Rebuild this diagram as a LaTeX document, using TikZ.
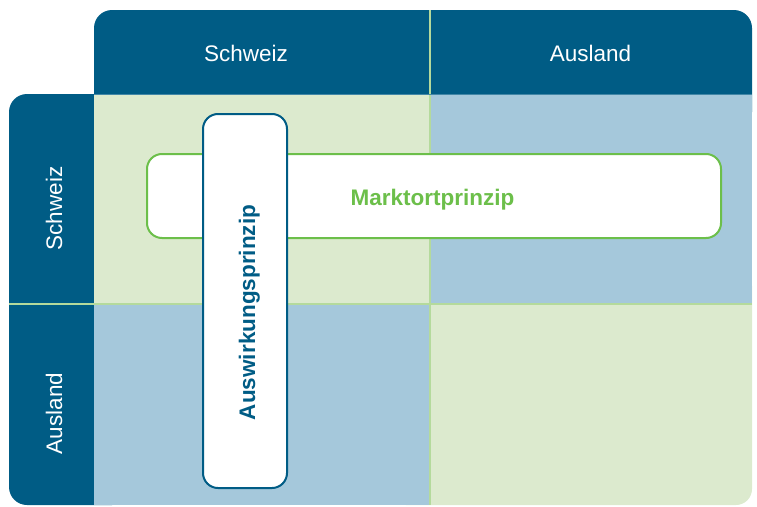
\documentclass[tikz,border=0pt]{standalone}
\usepackage{fontspec}
\setmainfont{Liberation Sans}
\definecolor{hdrblue}{HTML}{005C85}
\definecolor{lgreen}{HTML}{DCEACE}
\definecolor{lblue}{HTML}{A5C8DB}
\definecolor{divgreen}{HTML}{B4DA9C}
\definecolor{mgreen}{HTML}{6CBF4A}
\begin{document}
\begin{tikzpicture}[x=1pt,y=-1pt,
  hdrtext/.style={text=white,font=\fontsize{22.5}{26}\selectfont,anchor=base,inner sep=0pt},
  boxtext/.style={font=\bfseries\fontsize{22.5}{26}\selectfont,anchor=base,inner sep=0pt},
  divline/.style={divgreen,line width=2.2pt}]
\useasboundingbox (0,0) rectangle (757,506);
% headers
\fill[hdrblue,rounded corners=18pt] (94,10) rectangle (752,130);
\fill[hdrblue,rounded corners=18pt] (9,94) rectangle (130,505);
% quadrants
\fill[lgreen,rounded corners=16pt] (390,270) rectangle (752,505);
\fill[lgreen] (94,94) rectangle (430,304);
\fill[lblue] (430,94) rectangle (752,304);
\fill[lblue] (94,304) rectangle (430,505);
% dividers
\draw[divline] (9,304) -- (752,304);
\draw[divline] (430,10) -- (430,505);
\draw[hdrblue!60!lblue,line width=0.8pt] (94,94.4) -- (752,94.4);
% header labels
\node[hdrtext] (hs) at (246,61) {Schweiz};
\node[hdrtext] (ha) at (590.5,61) {Ausland};
\node[hdrtext,rotate=90] (vs) at (62,208.5) {Schweiz};
\node[hdrtext,rotate=90] (va) at (62,413.5) {Ausland};
% Marktortprinzip box
\draw[mgreen,line width=2pt,fill=white,rounded corners=15pt] (147,154) rectangle (721,238);
\node[boxtext,text=mgreen] (mp) at (432.5,205) {Marktortprinzip};
% Auswirkungsprinzip box
\draw[hdrblue,line width=2pt,fill=white,rounded corners=15pt] (203,114) rectangle (287,488);
\node[boxtext,text=hdrblue,rotate=90] (ap) at (255,312.5) {Auswirkungsprinzip};
\end{tikzpicture}
\end{document}
